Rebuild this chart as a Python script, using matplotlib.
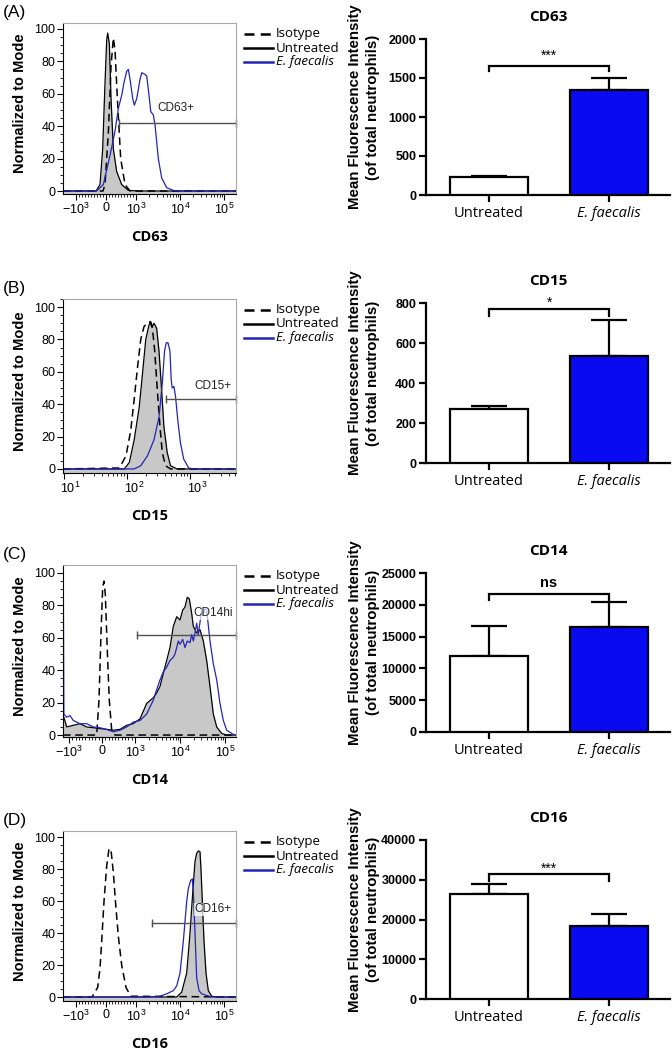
import matplotlib
matplotlib.use('Agg')
import matplotlib.pyplot as plt
from matplotlib.lines import Line2D
from matplotlib.transforms import Bbox, TransformedBbox, ScaledTranslation
from matplotlib.ticker import FixedLocator, MultipleLocator

W, H = 672, 1051
plt.rcParams['font.family'] = ['Liberation Sans', 'DejaVu Sans']
plt.rcParams['mathtext.default'] = 'regular'

BLUE_BAR = '#0a0af0'
BLUE_LINE = '#2424b8'
GRAY_FILL = '#c8c8c8'

# ---- histogram data (x = fluorescence, y = % of mode) ----
# CD63
a_iso_x = [-1975, -100, -33, 78, 167, 244, 300, 378, 489, 633, 800, 187400]
a_iso_y = [0, 0, 4, 36, 77, 94.5, 87, 57, 20, 4, 0, 0]
a_unt_x = [-1975, -330, -200, -111, -33, 22, 56, 111, 167, 244, 356, 522, 744, 1100, 187400]
a_unt_y = [0, 0, 4, 26, 67, 93, 97.5, 91, 57, 26, 12, 4, 0.4, 0, 0]
a_ef_x = [-1975, -311, -89, 133, 300, 411, 522, 600, 689, 744, 800, 889, 944, 1037, 1233,
          1347, 1601, 1750, 1975, 2160, 2470, 2700, 3210, 3840, 4980, 7050, 9140, 187400]
a_ef_y = [0, 0, 4, 22, 37, 51, 59, 67, 74, 75, 69, 57, 53, 57, 69,
          73, 72, 71, 59, 49, 47, 41, 20, 8, 2, 0.4, 0, 0]

# CD15
b_iso_x = [9.8, 75.9, 96.4, 115, 130, 147, 165, 186, 210, 231, 252, 274, 301, 332, 361, 406, 487, 5250]
b_iso_y = [0, 0.6, 8, 24, 43, 63, 80, 88, 90, 91, 87, 73, 49, 26, 10, 2, 0, 0]
b_unt_x = [9.8, 90.8, 109, 130, 156, 176, 198, 223, 237, 252, 267, 294, 320, 352, 383, 432, 487, 619, 5250]
b_unt_y = [0, 0, 4, 18, 38, 59, 80, 89, 91, 88, 90, 87, 73, 49, 26, 10, 2, 0, 0]
b_ef_x = [9.8, 130, 165, 210, 267, 320, 361, 392, 417, 443, 476, 499, 518, 550, 583, 634, 698, 787, 942, 1127, 5250]
b_ef_y = [0, 0, 2, 8, 18, 32, 53, 73, 78, 78, 73, 55, 50, 51, 45, 30, 16, 6, 0.6, 0, 0]

# CD14
c_iso_x = [-1359, -161, -91, -30, 21, 61, 100, 161, 221, 294, 394, 175600]
c_iso_y = [0, 0, 21.5, 63, 91, 95, 87, 52, 21.5, 3, 0, 0]
c_unt_x = [-1359, -1300, -1125, -870, -667, -464, -61, 342, 545, 748, 948, 1292, 1820, 2550, 3035,
           3594, 4256, 5060, 5995, 7100, 8450, 10000, 11470, 12915, 14530, 16100, 18200, 19800,
           23500, 27800, 33000, 39150, 46400, 55000, 65400, 84500, 108900, 175600]
c_unt_y = [11, 11, 5, 6, 7, 5, 4, 3, 3.5, 6, 7, 10, 19.5, 23, 26,
           30, 38, 46, 54, 67, 73, 71, 77, 79, 85, 84, 75, 67,
           63, 65, 58, 46, 30, 13, 5, 1, 0, 0]
c_ef_x = [-1359, -1340, -1300, -1125, -970, -870, -667, -464, -263, -61, 141, 342, 545, 748, 948,
          1292, 1820, 2550, 3035, 3594, 4256, 5060, 5995, 7100, 7740, 8450, 9180, 10000, 11470,
          12915, 14530, 16680, 18200, 19800, 21540, 23500, 25500, 30300, 33000, 35940, 39150,
          46400, 55000, 65400, 77400, 91800, 108900, 153000, 175600]
c_ef_y = [0, 100, 13, 11, 12, 9, 7, 7, 5, 4.5, 3.5, 2, 3, 5, 8,
          9, 13, 21.5, 28, 34, 39, 42, 46, 48, 50, 54, 58, 56, 59,
          54, 58, 57, 62, 58, 63, 69, 62, 77, 75, 78, 77,
          58, 44, 34, 19.5, 9, 3, 0.4, 0]

# CD16
d_iso_x = [-1975, -467, -278, -200, -144, -67, 22, 100, 167, 244, 322, 411, 522, 667, 822, 187400]
d_iso_y = [0, 0, 6, 18, 35, 60, 82, 93, 92, 78, 58, 38, 20, 6, 0.5, 0]
d_unt_x = [-1975, 8410, 10900, 14190, 16870, 19400, 21930, 23920, 26060, 28480, 30000, 32150,
           35100, 38990, 43980, 52440, 68200, 187400]
d_unt_y = [0, 0, 3, 15, 40, 65, 85, 90, 91.5, 91, 80, 60, 35, 15, 4, 0.5, 0, 0]
d_ef_x = [-1975, 1750, 3510, 4990, 7050, 8410, 10000, 11900, 14190, 15450, 17490, 19050, 20090,
          21930, 23920, 27050, 31100, 40400, 52440, 187400]
d_ef_y = [0, 0, 0.5, 2, 4, 7, 15, 35, 60, 68, 73, 74, 66, 40, 12, 4, 2, 1, 0, 0]

legend_labels = ['Isotype', 'Untreated', 'E. faecalis']

# ---- bar data ----
groups = ['Untreated', 'E. faecalis']
cd63_mean = [225, 1350]
cd63_err = [25, 155]
cd15_mean = [270, 535]
cd15_err = [16, 180]
cd14_mean = [12000, 16450]
cd14_err = [4650, 3950]
cd16_mean = [26500, 18450]
cd16_err = [2400, 3050]
sig_marks = ['***', '*', 'ns', '***']

fig = plt.figure(figsize=(W / 100, H / 100), dpi=100)


def rect(l, t, r, b):
    return [l / W, 1 - b / H, (r - l) / W, (b - t) / H]


def fy(y):
    return 1 - y / H


clip = TransformedBbox(Bbox([[0, 0], [340 / W, 1]]), fig.transFigure)


def histo(top, bot, scale, xlim, ylim, ticks, labels, minor, curves, gate, gate_lbl, name, letter, boxed,
          lbl_shift=0):
    ax = fig.add_axes(rect(63, top, 236, bot))
    if scale == 'log':
        ax.set_xscale('log')
    else:
        ax.set_xscale('symlog', linthresh=1000, linscale=scale)
    ix, iy, ux, uy, ex, ey = curves
    ax.fill_between(ux, uy, ylim[0], color=GRAY_FILL, lw=0)
    ax.plot(ux, uy, color='black', lw=0.9)
    ax.plot(ix, iy, color='black', lw=1.1, dashes=(5, 3))
    ax.plot(ex, ey, color=BLUE_LINE, lw=0.9)
    gx0, gy, lx, ly = gate
    ax.plot([gx0, xlim[1]], [gy, gy], color='#505050', lw=1.0)
    ax.plot([gx0, xlim[1]], [gy, gy], ls='none', marker='|', ms=6, mew=1.0, color='#505050', clip_on=False)
    bbox = dict(facecolor='white', edgecolor='none', alpha=0.7, pad=0.5) if boxed else None
    ax.text(lx, ly, gate_lbl, ha='center', va='center', fontsize=8.5, color='#222222', bbox=bbox)
    ax.set_xlim(xlim)
    ax.set_ylim(ylim)
    ax.xaxis.set_major_locator(FixedLocator(ticks))
    ax.set_xticklabels(labels)
    if minor is not None:
        ax.xaxis.set_minor_locator(FixedLocator(minor))
    ax.set_yticks([0, 20, 40, 60, 80, 100])
    ax.yaxis.set_minor_locator(MultipleLocator(5))
    ax.tick_params(which='major', direction='out', length=4, width=0.8, labelsize=9, pad=1.5)
    ax.tick_params(which='minor', direction='out', length=2, width=0.6)
    if lbl_shift:
        off = ScaledTranslation(lbl_shift / 100, 0, fig.dpi_scale_trans)
        for lb in ax.get_xticklabels():
            lb.set_transform(lb.get_transform() + off)
    for s in ['top', 'right']:
        ax.spines[s].set_color('#a8a8a8')
        ax.spines[s].set_linewidth(0.8)
    for s in ['left', 'bottom']:
        ax.spines[s].set_linewidth(0.8)
    fig.text(20 / W, fy((top + bot) / 2 - 5), 'Normalized to Mode', rotation=90, ha='center', va='center',
             fontsize=10.5, fontweight='bold')
    fig.text(150 / W, fy(bot + 43), name, ha='center', va='center', fontsize=10.5,
             fontweight='bold', family='Open Sans')
    fig.text(3 / W, fy(top - 10), letter, ha='left', va='center', fontsize=12.5)
    # legend
    rows = [top + 11, top + 25, top + 39]
    styles = [dict(color='black', lw=1.8, dashes=(4, 2.5)), dict(color='black', lw=1.8),
              dict(color=BLUE_LINE, lw=1.8)]
    for r, st, lab in zip(rows, styles, legend_labels):
        fig.add_artist(Line2D([244 / W, 273 / W], [fy(r), fy(r)], transform=fig.transFigure, **st))
        t = fig.text(276 / W, fy(r), lab, ha='left', va='center', fontsize=9.5, family='Open Sans',
                     style='italic' if lab.startswith('E.') else 'normal', clip_on=True)
        t.set_clip_box(clip)
    return ax


def symlog_minor(lo, hi):
    m = [v for v in range(-900, 1000, 100) if v != 0]
    for d in [1000, 10000, 100000]:
        for k in range(2, 10):
            m.append(k * d)
            m.append(-k * d)
    return [v for v in m if lo < v < hi]


bio_ticks = [-1000, 0, 1000, 10000, 100000]
bio_labels = [r'$-10^3$', '0', r'$10^3$', r'$10^4$', r'$10^5$']

histo(23, 194, 0.614, (-1975, 187400), (-1.85, 103.7), bio_ticks, bio_labels, symlog_minor(-1975, 187400),
      (a_iso_x, a_iso_y, a_unt_x, a_unt_y, a_ef_x, a_ef_y), (444, 41.7, 8100, 51), 'CD63+', 'CD63', '(A)', False)
histo(299, 473, 'log', (9.8, 5250), (-2.5, 105), [10, 100, 1000], [r'$10^1$', r'$10^2$', r'$10^3$'], None,
      (b_iso_x, b_iso_y, b_unt_x, b_unt_y, b_ef_x, b_ef_y), (417, 43, 2290, 51), 'CD15+', 'CD15', '(B)', False,
      lbl_shift=7)
histo(565, 737, 0.66, (-1359, 175600), (-1.2, 104.9), bio_ticks, bio_labels, symlog_minor(-1359, 175600),
      (c_iso_x, c_iso_y, c_unt_x, c_unt_y, c_ef_x, c_ef_y), (1090, 61.6, 54100, 75), 'CD14hi', 'CD14', '(C)', True)
histo(831, 1001, 0.614, (-1975, 187400), (-2.5, 104), bio_ticks, bio_labels, symlog_minor(-1975, 187400),
      (d_iso_x, d_iso_y, d_unt_x, d_unt_y, d_ef_x, d_ef_y), (2275, 46.4, 56200, 55), 'CD16+', 'CD16', '(D)', True)


def bars(top, bot, means, errs, ymax, ystep, sig, br, drop, sig_y, title, sig_kw):
    ax = fig.add_axes(rect(426, top, 670, bot))
    ax.bar([0, 1], means, width=0.65, color=['white', BLUE_BAR], edgecolor='black', linewidth=1.6, zorder=3)
    ax.errorbar([0, 1], means, yerr=[[0, 0], errs], fmt='none', ecolor='black', elinewidth=1.6,
                capsize=13, capthick=1.6, zorder=2)
    ax.plot([0, 0, 1, 1], [drop, br, br, drop], color='black', lw=1.6, clip_on=False,
            solid_joinstyle='miter')
    ax.text(0.5, sig_y, sig, ha='center', va='center', clip_on=False, **sig_kw)
    ax.set_xlim(-0.525, 1.508)
    ax.set_ylim(0, ymax)
    ax.set_yticks(range(0, ymax + 1, ystep))
    for lb in ax.get_yticklabels():
        lb.set_fontweight('bold')
    ax.set_xticks([0, 1])
    lbls = ax.set_xticklabels(groups, family='Open Sans', fontsize=10.5)
    lbls[1].set_style('italic')
    ax.tick_params(axis='y', length=5, width=1.6, labelsize=9, pad=2)
    ax.tick_params(axis='x', length=5, width=1.6, pad=3)
    for s in ['top', 'right']:
        ax.spines[s].set_visible(False)
    for s in ['left', 'bottom']:
        ax.spines[s].set_linewidth(1.6)
    fig.text(548 / W, fy(top - 22), title, ha='center', va='center', fontsize=11,
             fontweight='bold', family='Open Sans')
    fig.text(364 / W, fy((top + bot) / 2 - 10), 'Mean Fluorescence Intensity\n(of total neutrophils)',
             rotation=90, ha='center', va='center', fontsize=10.8, fontweight='bold',
             linespacing=1.3, multialignment='center')
    return ax


star_kw = dict(fontsize=10)
ns_kw = dict(fontsize=10.5, fontweight='bold')
bars(39, 195, cd63_mean, cd63_err, 2000, 500, sig_marks[0], 1658, 1585, 1785, 'CD63', star_kw)
bars(303, 463, cd15_mean, cd15_err, 800, 200, sig_marks[1], 770, 735, 800, 'CD15', star_kw)
bars(573, 732, cd14_mean, cd14_err, 25000, 5000, sig_marks[2], 21650, 20750, 23470, 'CD14', ns_kw)
bars(840, 999, cd16_mean, cd16_err, 40000, 10000, sig_marks[3], 31370, 29770, 32700, 'CD16', star_kw)

fig.savefig('out.png', dpi=100)
